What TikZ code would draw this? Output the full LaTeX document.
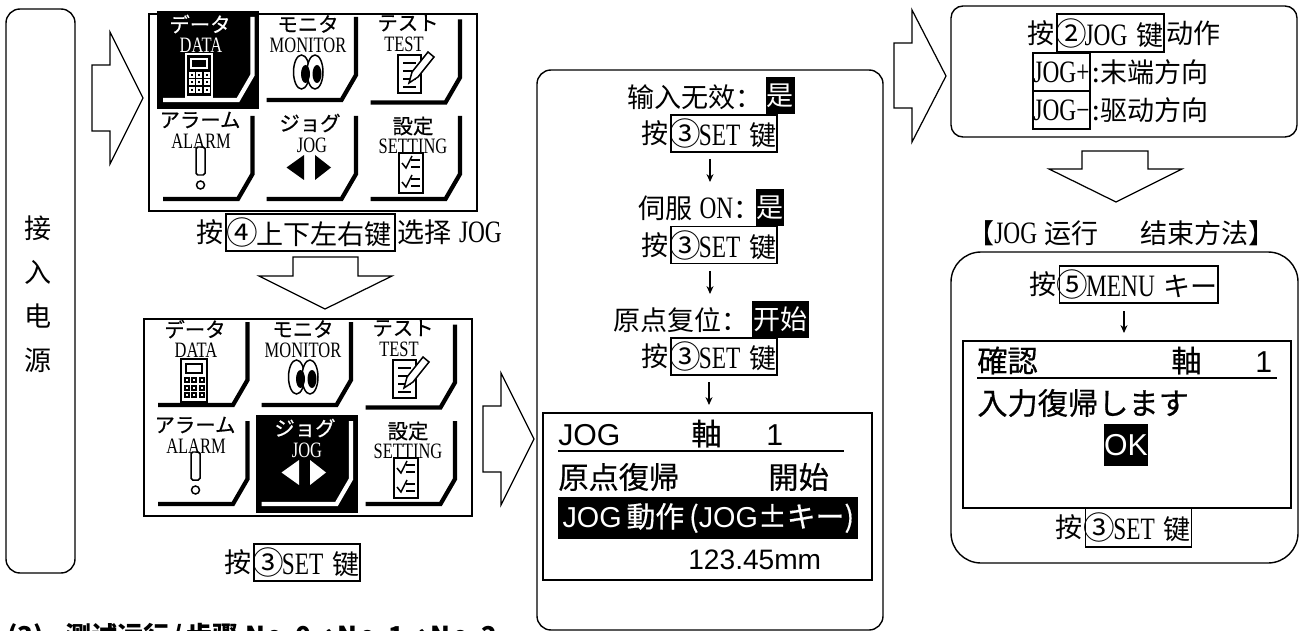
\documentclass[tikz,border=0pt]{standalone}
\usepackage{fontspec}
\setmainfont{Noto Sans CJK SC}
\newfontfamily\latf{Liberation Serif}[FakeStretch=0.75,Scale=1.15]
\newfontfamily\iconf{Liberation Serif}[FakeStretch=0.75]
\newfontfamily\dispf{Liberation Sans}
\newfontfamily\dispjp{Noto Sans CJK JP}[FakeBold=0.5]
\usetikzlibrary{arrows.meta,positioning,calc}
\colorlet{fg}{black}
\colorlet{bg}{white}
\newcommand\lat[1]{{\latf #1}}
\newcommand\dl[1]{{\dispf #1}}
\newcommand\cn[1]{\hspace{-1.5pt}{\fontsize{18}{17}\selectfont #1}\hspace{-1.2pt}}
\newcommand\headno[1]{N\hspace{1pt}o\hspace{1pt}.\hspace{1pt}#1}

% icons of the menu cells
\newcommand\icondata{
  \draw[iconline] (37,40) rectangle (63,83);
  \draw[fg, line width=0.6pt] (42,45) rectangle (58,54);
  \foreach \cx in {42.5,50,57.5} \foreach \cy in {61,68.5,76} {
    \fill[fg] (\cx-3,\cy-3) rectangle (\cx+3,\cy+3);
    \fill[bg] (\cx-1,\cy-1) rectangle (\cx+1,\cy+1);
  }
}
\newcommand\iconmonitor{
  \draw[iconline] (152.5,58) ellipse (8 and 17);
  \draw[iconline, fill=bg] (166,58) ellipse (8 and 17);
  \fill[fg] (156.5,60) ellipse (4.5 and 9);
  \fill[fg] (168,60) ellipse (4.5 and 9);
}
\newcommand\icontest{
  \draw[iconline] (249,41) rectangle (272,79);
  \foreach \ly in {49,57,65} \draw[iconline] (254,\ly) -- (267,\ly);
  \draw[iconline] (254,73) -- (267,73);
  \draw[iconline, fill=bg] (260,69) -- (263,58) -- (279,38) -- (285,43) -- (269,63) -- cycle;
}
\newcommand\iconalarm{
  \draw[iconline, rounded corners=1pt] (47,133) rectangle (56,161);
  \draw[iconline] (51.5,171) circle (4);
}
\newcommand\iconjog{
  \fill[fg] (137.5,153.5) -- (155,141) -- (155,166) -- cycle;
  \fill[fg] (182,153.5) -- (166,141) -- (166,166) -- cycle;
}
\newcommand\iconsetting{
  \draw[iconline] (250,139) rectangle (274,179);
  \foreach \ty in {149,168} {
    \draw[iconline] (253,\ty) -- (257,\ty+5) -- (263,\ty-7);
    \draw[iconline] (262,\ty-3) -- (271,\ty-3);
    \draw[iconline] (262,\ty+4) -- (271,\ty+4);
  }
}

% #1 name, #2 x, #3 y, #4 highlighted cell
\newcommand\menupanel[4]{
  \begin{scope}[shift={(#2,#3)}]
    \node[menuframe] (#1frame) at (164,98.5) {};
    \foreach \n/\ox/\oy/\kana/\kx/\ky/\word/\lx/\ly/\icon in {
      1/0/0/データ/51/10/DATA/52/31/\icondata,
      2/103.5/0/モニタ/159/10/MONITOR/159/31/\iconmonitor,
      3/207.5/2.5/テスト/259/9/TEST/255/30/\icontest,
      4/0/99/アラーム/51/106/ALARM/52/127/\iconalarm,
      5/103.5/99/ジョグ/161/109/JOG/163/131/\iconjog,
      6/207.5/99/設定/264/112/SETTING/264/132/\iconsetting} {
      \ifnum\n=#4
        \colorlet{fg}{white}\colorlet{bg}{black}
        \fill[black] (\ox+8,\oy-3) rectangle (\ox+110,\oy+95);
      \fi
      \draw[cellcorner] (\ox+103.5,\oy+3) -- (\ox+103.5,\oy+61) -- (\ox+89,\oy+86) -- (\ox+14,\oy+86);
      \node[iconkana] (#1kana\n) at (\kx,\ky) {\kana};
      \node[iconword] (#1word\n) at (\lx,\ly) {\word};
      \icon
    }
  \end{scope}
}

\begin{document}
\begin{tikzpicture}[
  x=0.02cm, y=-0.02cm,
  txt/.style={font=\fontsize{15.4}{17}\selectfont, inner sep=0pt},
  keybox/.style={txt, draw, line width=0.85pt, minimum height=37*0.02cm, minimum width=106*0.02cm},
  hl/.style={txt, fill=black, text=white, minimum height=37*0.02cm},
  roundbox/.style={draw, line width=0.8pt, inner sep=0pt},
  lcd/.style={draw, line width=0.85pt, inner sep=0pt},
  disp/.style={font=\fontsize{17.2}{19}\selectfont\dispjp, inner sep=0pt},
  blockarrow/.style={draw, line width=0.7pt, line join=miter},
  arr/.style={-{Stealth[length=4.5pt,width=4pt]}, line width=0.6pt},
  menuframe/.style={draw, line width=0.85pt, inner sep=0pt, minimum width=328*0.02cm, minimum height=197*0.02cm},
  cellcorner/.style={fg, line width=2.4pt, line join=miter},
  iconline/.style={fg, line width=0.85pt},
  iconkana/.style={font=\fontsize{11.6}{13}\selectfont\dispjp, inner sep=0pt, text=fg},
  iconword/.style={font=\fontsize{12.5}{14}\selectfont\iconf, inner sep=0pt, text=fg}
]
\useasboundingbox (0,0) rectangle (1300,631);

% Left: power box and menu panels
\node[roundbox, rounded corners=0.28cm, minimum width=69*0.02cm, minimum height=564*0.02cm] (power) at (40.5,291) {};
\node[txt, font=\fontsize{15.4}{25}\selectfont, align=center] (powertext) at (38,294) {接\\入\\电\\源};
\draw[blockarrow] (92,65) -- (110,65) -- (110,32) -- (143,98) -- (110,164) -- (110,131) -- (92,131) -- cycle;

\menupanel{top}{149}{14}{1}
\node[keybox, minimum width=169*0.02cm] (keyselect) at (310.5,232.5) {\cn{④}上下左右键};
\node[txt, left=1pt of keyselect] (pressselect) {按};
\node[txt, right=1pt of keyselect] (selecttail) {选择\hspace{4pt}\lat{JOG}};
\draw[blockarrow] (293,257) -- (358,257) -- (358,276) -- (392,276) -- (325,309) -- (259,276) -- (293,276) -- cycle;

\menupanel{low}{144}{319}{5}
\node[keybox] (keylow) at (307,562.5) {\cn{③}\lat{SET}\hspace{5pt}键};
\node[txt, left=1pt of keylow] (presslow) {按};

\node[txt, font=\fontsize{14.8}{17}\bfseries\selectfont, anchor=west] (heading) at (7,637) {(3)\hspace{12pt}测试运行\hspace{2pt}/\hspace{2pt}步骤\hspace{4pt}\headno{0}→\headno{1}→\headno{2}};

% Middle: servo steps and display
\draw[blockarrow] (483,406) -- (501,406) -- (501,373) -- (534,439) -- (501,505) -- (501,472) -- (483,472) -- cycle;
\node[roundbox, rounded corners=0.28cm, minimum width=346*0.02cm, minimum height=560*0.02cm] (jogbox) at (710,350) {};

\node[txt, anchor=west] (invalid) at (627,97) {输入无效：};
\node[hl, minimum width=29*0.02cm] (invalidyes) at (780.5,95.5) {是};
\node[keybox] (keyA) at (724,133.5) {\cn{③}\lat{SET}\hspace{5pt}键};
\node[txt, left=1pt of keyA] (pressA) {按};
\coordinate (dropA) at (710,159);
\coordinate (landA) at (710,182);

\node[txt, anchor=west] (servo) at (638,208) {伺服\hspace{4pt}\lat{ON}：};
\node[hl, minimum width=28*0.02cm] (servoyes) at (770,207.5) {是};
\node[keybox] (keyB) at (724,245) {\cn{③}\lat{SET}\hspace{5pt}键};
\node[txt, left=1pt of keyB] (pressB) {按};
\coordinate (dropB) at (710,271);
\coordinate (landB) at (710,294);

\node[txt, anchor=west] (origin) at (613,320) {原点复位：};
\node[hl, minimum width=57*0.02cm] (originstart) at (780.5,319.5) {开始};
\node[keybox] (keyC) at (724,356.5) {\cn{③}\lat{SET}\hspace{5pt}键};
\node[txt, left=1pt of keyC] (pressC) {按};
\coordinate (dropC) at (709,382);
\coordinate (landC) at (709,405);

\foreach \a/\b in {dropA/landA,dropB/landB,dropC/landC} \draw[arr] (\a) -- (\b);

\node[lcd, minimum width=329*0.02cm, minimum height=167*0.02cm] (joglcd) at (707.5,496.5) {};
\node[disp, anchor=base west] (jogtitle) at (558,445) {\dl{JOG}};
\node[disp, anchor=base west] (jogaxis) at (691,445) {軸};
\node[disp, anchor=base west] (jogone) at (766,445) {\dl{1}};
\draw[line width=0.85pt] (558,451) -- (844,451);
\node[disp, anchor=west] (jogorigin) at (558,477) {原点復帰};
\node[disp, anchor=west] (jogstart) at (768,477) {開始};
\node[disp, font=\fontsize{16.4}{19}\selectfont\dispjp, fill=black, text=white, anchor=west, minimum width=300*0.02cm, minimum height=42*0.02cm, align=left] (jogbar) at (558,518) {\dl{JOG}\,動作\,(\dl{JOG}±キー)};
\node[disp, font=\fontsize{16}{19}\selectfont, anchor=west] (jogpos) at (688,560) {\dl{123.45mm}};

% Right: jog keys
\draw[blockarrow] (894,43) -- (912,43) -- (912,10) -- (946,76) -- (912,142) -- (912,108) -- (894,108) -- cycle;
\node[roundbox, rounded corners=0.24cm, minimum width=346*0.02cm, minimum height=131*0.02cm] (keysbox) at (1124,71.5) {};
\node[keybox, minimum width=107*0.02cm, minimum height=38*0.02cm] (keyjog) at (1110.5,33) {\cn{②}\lat{JOG}\hspace{5pt}键};
\node[txt, left=1pt of keyjog] (pressjog) {按};
\node[txt, right=1pt of keyjog] (jogaction) {动作};
\node[keybox, minimum width=57*0.02cm, minimum height=38*0.02cm] (keyplus) at (1061.5,72) {\lat{JOG+}};
\node[txt, right=1pt of keyplus] (plustext) {:末端方向};
\node[keybox, minimum width=57*0.02cm, minimum height=38*0.02cm] (keyminus) at (1061.5,110) {\lat{JOG−}};
\node[txt, right=1pt of keyminus] (minustext) {:驱动方向};
\draw[blockarrow] (1082,151) -- (1148,151) -- (1148,169) -- (1182,169) -- (1116,202) -- (1049,169) -- (1082,169) -- cycle;

\node[txt] (endtitle) at (1121.5,233) {【\lat{JOG}\hspace{4pt}运行\hspace{24pt}结束方法】};

\node[roundbox, rounded corners=0.6cm, minimum width=347*0.02cm, minimum height=311*0.02cm] (endbox) at (1124.5,407.5) {};
\node[keybox, minimum width=149*0.02cm] (keymenu) at (1138.5,284.5) {\cn{⑤}\lat{MENU}\hspace{5pt}キー};
\node[txt, left=1pt of keymenu] (pressmenu) {按};
\coordinate (dropD) at (1124,311);
\coordinate (landD) at (1124,333);
\draw[arr] (dropD) -- (landD);
\node[lcd, minimum width=328*0.02cm, minimum height=167*0.02cm] (endlcd) at (1127,424.5) {};
\node[disp, anchor=base west] (endtitletext) at (977,372) {確認};
\node[disp, anchor=base west] (endaxis) at (1171,372) {軸};
\node[disp, anchor=base west] (endone) at (1255,372) {\dl{1}};
\draw[line width=0.85pt] (977,378) -- (1277,378);
\node[disp, anchor=west] (endmsg) at (977,403) {入力復帰します};
\node[disp, fill=black, text=white, minimum width=42*0.02cm, minimum height=42*0.02cm] (endok) at (1126,445) {\dl{OK}};
\node[keybox, minimum height=39*0.02cm] (keyend) at (1138.5,527.5) {\cn{③}\lat{SET}\hspace{5pt}键};
\node[txt, left=1pt of keyend] (pressend) {按};

\end{tikzpicture}
\end{document}
